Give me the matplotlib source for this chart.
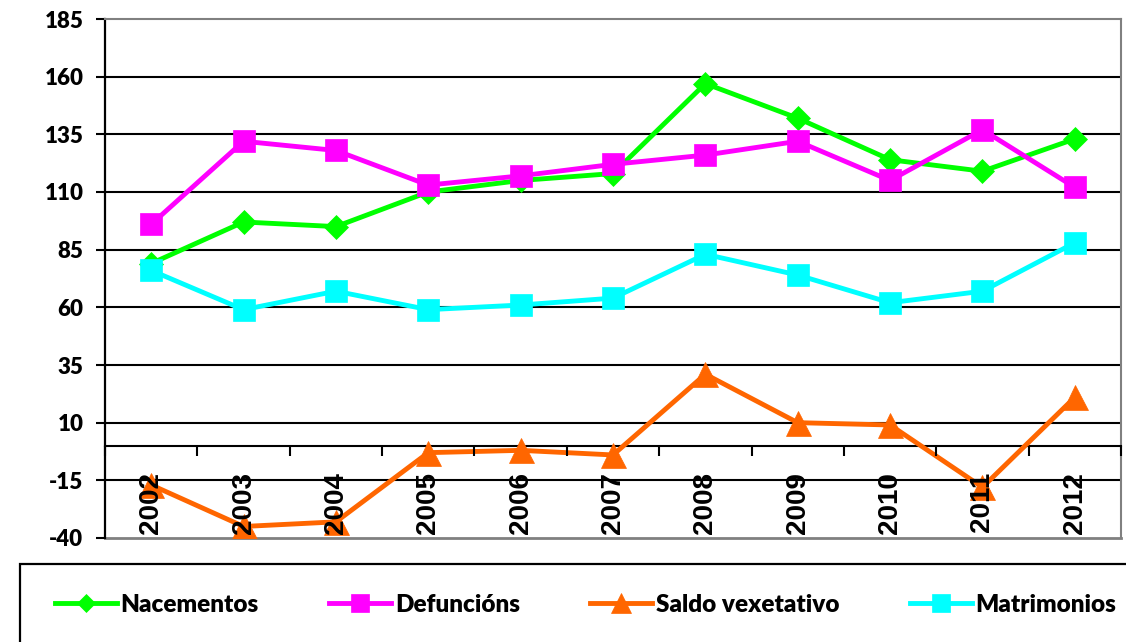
import matplotlib.pyplot as plt
from matplotlib.patches import Rectangle

# Movemento natural da poboación, 2002-2012
years = ['2002', '2003', '2004', '2005', '2006', '2007', '2008', '2009', '2010', '2011', '2012']
nacementos = [79, 97, 95, 110, 115, 118, 157, 142, 124, 119, 133]
defuncions = [96, 132, 128, 113, 117, 122, 126, 132, 115, 137, 112]
saldo = [-17, -35, -33, -3, -2, -4, 31, 10, 9, -18, 21]
matrimonios = [76, 59, 67, 59, 61, 64, 83, 74, 62, 67, 88]
yticks = [-40, -15, 10, 35, 60, 85, 110, 135, 160, 185]

W, H = 1126, 642
fig = plt.figure(figsize=(W / 100, H / 100), dpi=100)
ax = fig.add_axes([105 / W, 1 - 538 / H, 1016 / W, 519 / H])

x = list(range(len(years)))
series = [
    ('Nacementos', nacementos, '#00FF00', 'D', 12),
    ('Defuncións', defuncions, '#FF00FF', 's', 15.5),
    ('Saldo vexetativo', saldo, '#FF6600', '^', 18),
    ('Matrimonios', matrimonios, '#00FFFF', 's', 15.5),
]
handles = []
for name, vals, col, mk, ms in series:
    h, = ax.plot(x, vals, color=col, lw=3.5, marker=mk, ms=ms,
                 mfc=col, mec=col, mew=0.5, label=name, zorder=3)
    handles.append(h)

ax.set_xlim(-0.5, len(years) - 0.5)
ax.set_ylim(yticks[0], yticks[-1])

# horizontal grid behind the series
for v in yticks[1:-1]:
    ax.axhline(v, color='black', lw=1.5, zorder=1)
ax.axhline(yticks[0], color='#808080', lw=2, zorder=1, clip_on=False)

for s in ['top', 'right']:
    ax.spines[s].set_color('#808080')
    ax.spines[s].set_linewidth(1.5)
ax.spines['left'].set_color('black')
ax.spines['left'].set_linewidth(1.6)
ax.spines['bottom'].set_position(('data', 0))
ax.spines['bottom'].set_color('black')
ax.spines['bottom'].set_linewidth(1.5)

ax.set_yticks(yticks)
ax.set_yticklabels([str(v) for v in yticks], fontfamily='Lato',
                   fontweight='heavy', fontsize=16)
ax.tick_params(axis='y', direction='out', length=6.5, width=1.5, pad=9)

ax.set_xticks(x)
ax.set_xticklabels(years, rotation=90, fontfamily='Liberation Sans',
                   fontweight='bold', fontsize=20, va='top')
ax.set_xticks([i - 0.5 for i in range(len(years) + 1)], minor=True)
ax.tick_params(axis='x', which='major', length=0, pad=19)
ax.tick_params(axis='x', which='minor', direction='out', length=7.5, width=1.5)
ax.xaxis.set_zorder(5)

# legend box running off the lower right edge
fig.patches.append(Rectangle((20 / W, -0.1), 1.1, 1.1 - 564 / H,
                             transform=fig.transFigure, fill=False,
                             edgecolor='black', lw=1.6))
fig.legend(handles=handles, loc='center left',
           bbox_to_anchor=(55 / W, 1 - 605 / H), ncol=4,
           prop={'family': 'Lato', 'weight': 'heavy', 'size': 17.5},
           frameon=False, borderpad=0, handlelength=2.55, handletextpad=0.15,
           columnspacing=2.9, markerscale=0.8, borderaxespad=0)

fig.savefig('out.png', dpi=100)
